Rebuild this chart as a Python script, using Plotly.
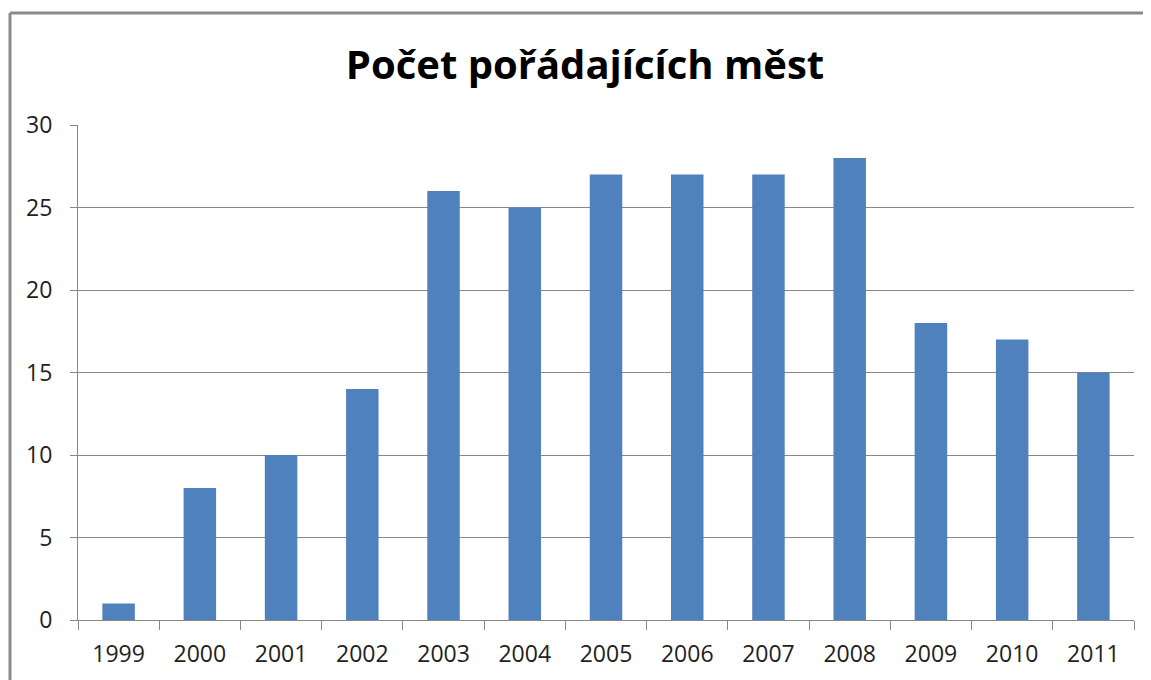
import plotly.graph_objects as go

years = ["1999", "2000", "2001", "2002", "2003", "2004", "2005", "2006", "2007", "2008", "2009", "2010", "2011"]
counts = [1, 8, 10, 14, 26, 25, 27, 27, 27, 28, 18, 17, 15]
title_text = "Počet pořádajících měst"

OFF = 8  # page body margin
W, H = 1151 - OFF, 680 - OFF
# plot area in page pixels: x 78..1134, y 125..620
L, R, T, B = 78 - OFF, W - (1134 - OFF), 125 - OFF, H - (620 - OFF)
pw, ph = W - L - R, H - T - B

fig = go.Figure(go.Bar(x=years, y=counts, marker=dict(color="#4F81BD", line=dict(width=0)), width=0.4))

px = lambda p: (p - OFF - L) / pw
py = lambda p: (H - B - (p - OFF)) / ph

fig.update_layout(
    width=W, height=H,
    margin=dict(l=L, r=R, t=T, b=B),
    paper_bgcolor="white", plot_bgcolor="white",
    title=dict(text="<b>" + title_text + "</b>", xref="container", x=(585 - OFF) / W, xanchor="center",
               y=1 - (65 - OFF) / H, yanchor="middle",
               font=dict(family="Open Sans, DejaVu Sans, sans-serif", size=40, color="black")),
    font=dict(family="Open Sans, DejaVu Sans, sans-serif", size=23, color="#222"),
    showlegend=False,
    xaxis=dict(type="category", showline=True, linecolor="#888", linewidth=1,
               ticks="outside", tickson="boundaries", ticklen=9, tickcolor="#888",
               showgrid=False, ticklabelstandoff=13),
    yaxis=dict(range=[0, 30], dtick=5, showgrid=True, gridcolor="#888", gridwidth=1,
               showline=True, linecolor="#888", linewidth=1, ticks="outside", ticklen=7,
               tickcolor="#888", zeroline=False, ticklabelstandoff=13),
    shapes=[
        dict(type="line", xref="paper", yref="paper", x0=px(10), x1=px(1151 + 20), y0=py(13), y1=py(13),
             line=dict(color="#8a8a8a", width=3)),
        dict(type="line", xref="paper", yref="paper", x0=px(10), x1=px(10), y0=py(13), y1=py(680 + 20),
             line=dict(color="#8a8a8a", width=3)),
    ],
)

fig.write_html("out.html")
